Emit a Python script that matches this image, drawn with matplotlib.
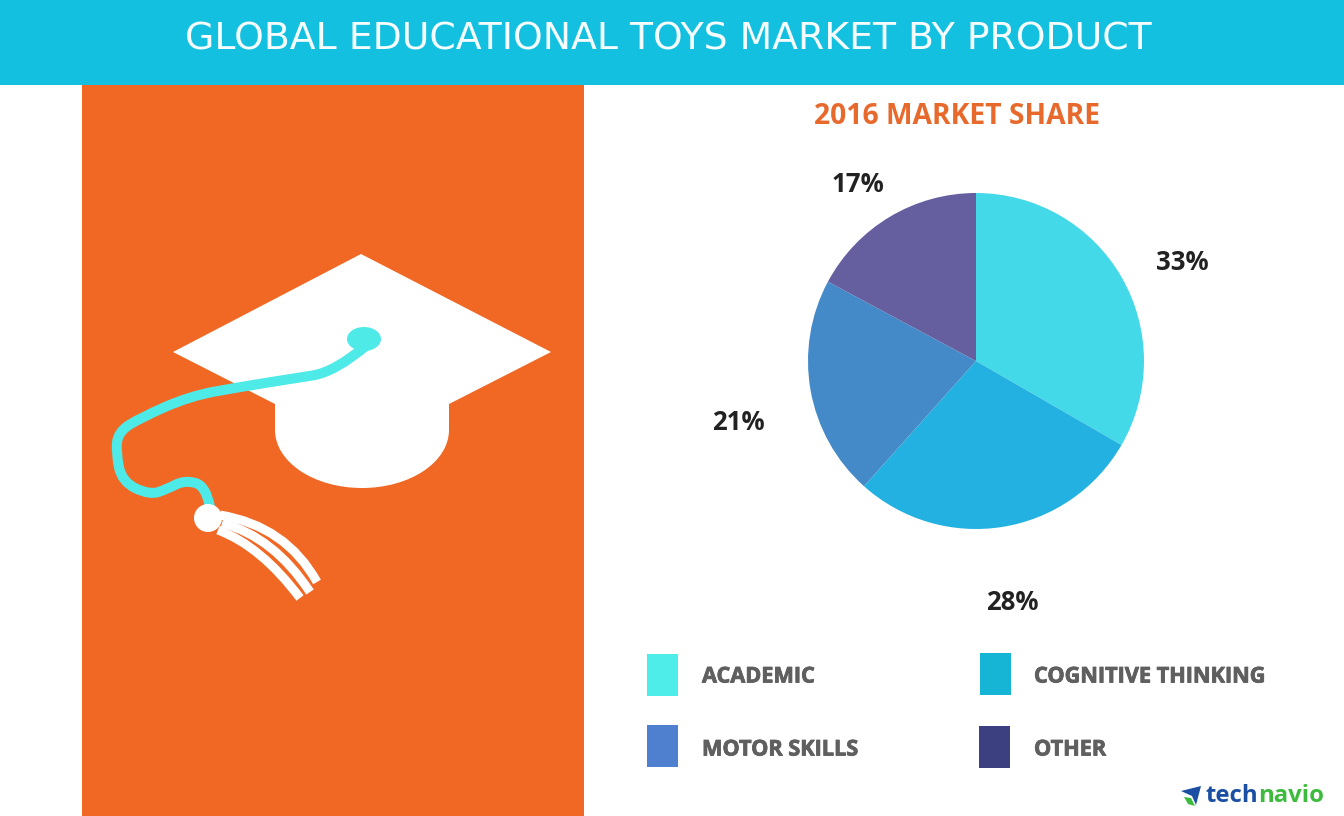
import matplotlib
matplotlib.use('Agg')
import matplotlib.pyplot as plt
import matplotlib.patheffects as pe
from matplotlib.patches import Rectangle, Polygon, Ellipse, Circle, PathPatch
from matplotlib.path import Path

W, H = 1344, 816

# data
title = 'GLOBAL EDUCATIONAL TOYS MARKET BY PRODUCT'
subtitle = '2016 MARKET SHARE'
categories = ['ACADEMIC', 'COGNITIVE THINKING', 'MOTOR SKILLS', 'OTHER']
shares = [33, 28, 21, 17]
pie_colors = ['#43D9E8', '#22B1E0', '#458AC8', '#655FA0']
legend_colors = ['#4EEDEA', '#16B5D6', '#4F80D0', '#3C4080']

# positions in picture pixels
label_pos = [(1182, 262), (1012, 602), (738, 423), (858, 184)]
legend_box = [(647, 654), (980, 653), (647, 725), (979, 726)]
legend_text = [(702, 677), (1034, 677), (702, 750), (1034, 750)]

ORANGE = '#F06824'
CORD = '#4EEAE8'

fig = plt.figure(figsize=(W / 100, H / 100), dpi=100, facecolor='white')

# full size axes working in pixels, y going down
bg = fig.add_axes([0, 0, 1, 1])
bg.set_xlim(0, W)
bg.set_ylim(H, 0)
bg.axis('off')

bg.add_patch(Rectangle((82, 84), 502, H - 84, color=ORANGE, lw=0))
bg.add_patch(Rectangle((0, 0), W, 85, color='#14C0E0', lw=0))
bg.text(668, 39, title, color='#F4FCFE', fontsize=27.2, family='DejaVu Sans',
        ha='center', va='center')
bg.text(957, 116, subtitle, color='#E8692C', fontsize=20.3, family='Open Sans',
        weight='bold', ha='center', va='center')


def smooth(points, width, color):
    # quadratic spline, on-curve points are the midpoints of the control points
    verts = [points[0]]
    codes = [Path.MOVETO]
    for i in range(1, len(points) - 1):
        a, b = points[i], points[i + 1]
        if i < len(points) - 2:
            b = ((a[0] + b[0]) / 2, (a[1] + b[1]) / 2)
        verts += [a, b]
        codes += [Path.CURVE3, Path.CURVE3]
    bg.add_patch(PathPatch(Path(verts, codes), fill=False, edgecolor=color,
                           lw=width * 0.72, capstyle='butt', zorder=4))


# cap
bg.add_patch(Polygon([(361, 254), (551, 352), (449, 404), (449, 430), (275, 430),
                      (275, 404), (173, 352)], color='white', lw=0, zorder=2))
bg.add_patch(Ellipse((362, 430), 174, 116, color='white', lw=0, zorder=2))

# cord
smooth([(367, 345), (335, 372), (290, 379), (240, 387), (190, 396), (140, 418),
        (118, 432), (116, 453), (122, 482), (150, 495), (167, 489), (185, 480),
        (206, 486), (210, 507)], 10, CORD)
bg.add_patch(Ellipse((364, 339), 34, 24, color=CORD, lw=0, zorder=5))

# tassel
smooth([(220, 515), (286, 526), (317, 582)], 9, 'white')
smooth([(222, 523), (274, 537), (310, 592)], 9, 'white')
smooth([(218, 530), (261, 546), (300, 598)], 9, 'white')
bg.add_patch(Circle((208, 518), 14, color='white', lw=0, zorder=5))

# legend
for i in range(len(categories)):
    x, y = legend_box[i]
    bg.add_patch(Rectangle((x, y), 31, 42, color=legend_colors[i], lw=0))
    tx, ty = legend_text[i]
    bg.text(tx, ty, categories[i], color='#5F5F5F', fontsize=15.6,
            family='Open Sans', weight='bold', ha='left', va='center',
            path_effects=[pe.withStroke(linewidth=0.6, foreground='#5F5F5F')])

# percent labels
for i in range(len(shares)):
    x, y = label_pos[i]
    bg.text(x, y, f'{shares[i]}%', color='#222222', fontsize=18.5,
            family='Open Sans', weight='bold', ha='center', va='center')

# logo
bg.add_patch(Polygon([(1181, 791), (1201, 786), (1196, 805), (1192, 796)],
                     color='#1B4FA3', lw=0))
bg.add_patch(Polygon([(1184, 797), (1191, 798), (1195, 806), (1188, 804)],
                     color='#3DBB3D', lw=0))
t = bg.text(1205, 796, 'tech', color='#1B4FA3', fontsize=17.2, family='Open Sans',
            weight='bold', ha='left', va='center')
bg.annotate('navio', xy=(1, 0.5), xycoords=t, color='#3DBB3D', fontsize=17.2,
            family='Open Sans', weight='bold', ha='left', va='center')

# pie, centre 976,361 radius 168
pie_ax = fig.add_axes([(976 - 168) / W, (H - 361 - 168) / H, 336 / W, 336 / H])
pie_ax.pie(shares, colors=pie_colors, startangle=90, counterclock=False,
           wedgeprops={'linewidth': 0})
pie_ax.set_xlim(-1, 1)
pie_ax.set_ylim(-1, 1)

fig.savefig('out.png', dpi=100)
